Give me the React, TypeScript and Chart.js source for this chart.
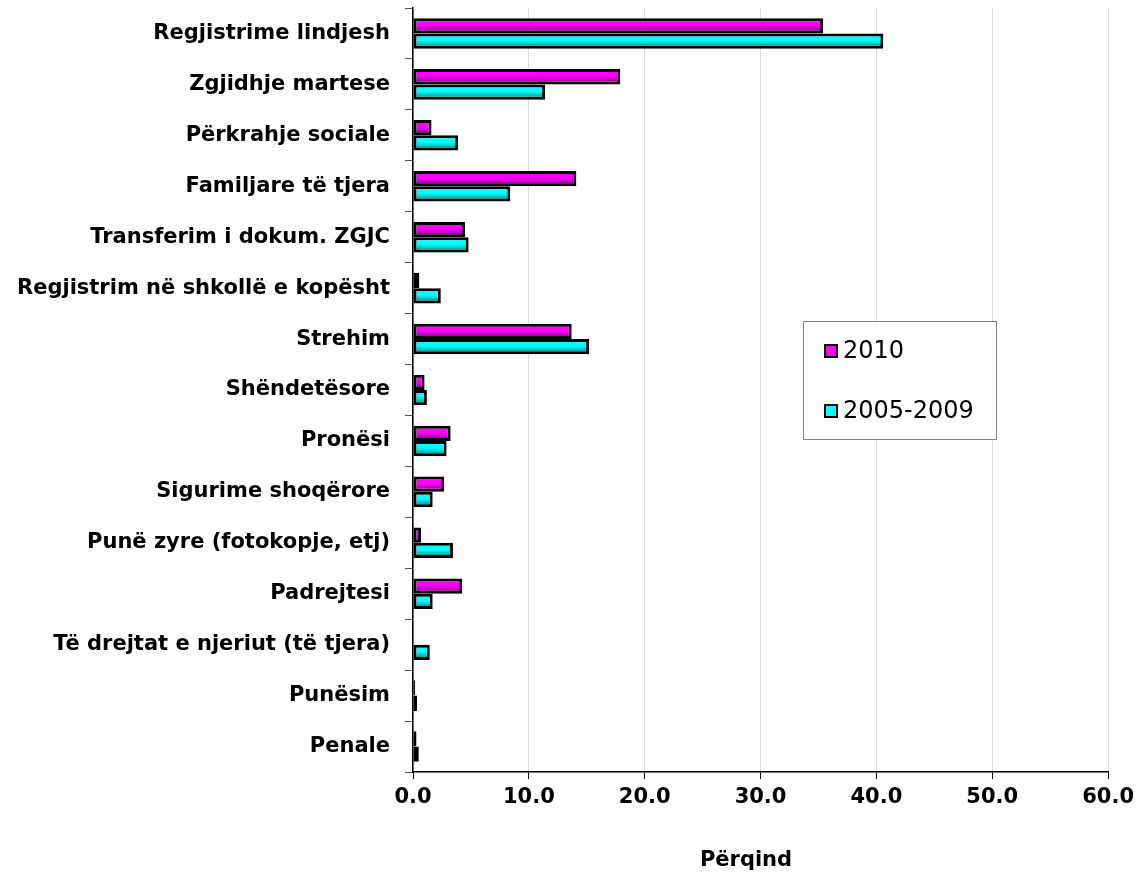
import React, { useEffect, useRef } from "react";
import { Chart, registerables } from "chart.js";

Chart.register(...registerables);

const CATEGORIES = [
  "Regjistrime lindjesh",
  "Zgjidhje martese",
  "Përkrahje sociale",
  "Familjare të tjera",
  "Transferim i dokum. ZGJC",
  "Regjistrim në shkollë e kopësht",
  "Strehim",
  "Shëndetësore",
  "Pronësi",
  "Sigurime shoqërore",
  "Punë zyre (fotokopje, etj)",
  "Padrejtesi",
  "Të drejtat e njeriut (të tjera)",
  "Punësim",
  "Penale",
];

const SERIES_2010 = [35.4, 17.9, 1.6, 14.1, 4.5, 0.55, 13.7, 1.0, 3.25, 2.7, 0.7, 4.25, 0, 0.17, 0.3];
const SERIES_2005_2009 = [40.6, 11.4, 3.9, 8.4, 4.8, 2.4, 15.2, 1.2, 2.9, 1.7, 3.45, 1.7, 1.45, 0.35, 0.5];

const SERIES_NAMES = ["2010", "2005-2009"];
const X_TICKS = [0, 10, 20, 30, 40, 50, 60];
const X_TITLE = "Përqind";

const FONT = "'DejaVu Sans', Verdana, sans-serif";
const CAT_PCT = 0.6;

function barFill(base: string, dark: string, slot: number) {
  return (ctx: any) => {
    const chart = ctx.chart;
    const y = chart.scales && chart.scales.y;
    if (!y || ctx.type !== "data" || !y.height) return base;
    const c = y.getPixelForValue(ctx.dataIndex);
    const band = y.height / CATEGORIES.length;
    const half = (band * CAT_PCT) / 2;
    const top = slot === 0 ? c - half : c;
    const bottom = slot === 0 ? c : c + half;
    const g = chart.ctx.createLinearGradient(0, top, 0, bottom);
    g.addColorStop(0, base);
    g.addColorStop(0.45, base);
    g.addColorStop(0.85, dark);
    g.addColorStop(1, dark);
    return g;
  };
}

const titleShiftPlugin = {
  id: "xTitle",
  afterDraw(chart: any) {
    const ctx = chart.ctx;
    ctx.save();
    ctx.font = `bold 21px ${FONT}`;
    ctx.fillStyle = "#000000";
    ctx.textAlign = "center";
    ctx.textBaseline = "middle";
    ctx.fillText(X_TITLE, 746, 861);
    ctx.restore();
  },
};

const legendPlugin = {
  id: "boxLegend",
  afterDraw(chart: any) {
    const ctx = chart.ctx;
    const bx = 803, by = 321, bw = 193, bh = 118;
    ctx.save();
    ctx.fillStyle = "#ffffff";
    ctx.fillRect(bx, by, bw, bh);
    ctx.strokeStyle = "#808080";
    ctx.lineWidth = 1;
    ctx.strokeRect(bx + 0.5, by + 0.5, bw, bh);
    const colors = ["#ff00ff", "#00ffff"];
    const rows = [351, 411];
    ctx.font = `24px ${FONT}`;
    ctx.textBaseline = "middle";
    ctx.textAlign = "left";
    SERIES_NAMES.forEach((name, i) => {
      const cy = rows[i];
      ctx.fillStyle = colors[i];
      ctx.fillRect(825, cy - 6, 12, 12);
      ctx.strokeStyle = "#000000";
      ctx.lineWidth = 2;
      ctx.strokeRect(825, cy - 6, 12, 12);
      ctx.fillStyle = "#000000";
      ctx.fillText(name, 843, cy + 1);
    });
    ctx.restore();
  },
};

export default function App() {
  const ref = useRef<HTMLCanvasElement | null>(null);

  useEffect(() => {
    if (!ref.current) return;
    const chart = new Chart(ref.current, {
      type: "bar",
      data: {
        labels: CATEGORIES,
        datasets: [
          {
            label: SERIES_NAMES[0],
            data: SERIES_2010,
            backgroundColor: barFill("#ff00ff", "#990099", 0),
            borderColor: "#000000",
            borderWidth: 3,
            borderSkipped: false,
            categoryPercentage: CAT_PCT,
            barPercentage: 1.0,
          },
          {
            label: SERIES_NAMES[1],
            data: SERIES_2005_2009,
            backgroundColor: barFill("#00ffff", "#009999", 1),
            borderColor: "#000000",
            borderWidth: 3,
            borderSkipped: false,
            categoryPercentage: CAT_PCT,
            barPercentage: 1.0,
          },
        ],
      },
      options: {
        indexAxis: "y",
        responsive: false,
        animation: false,
        layout: { padding: { top: 8, right: 30, left: 0, bottom: 0 } },
        plugins: {
          legend: { display: false },
          tooltip: { enabled: false },
        },
        scales: {
          x: {
            min: 0,
            max: 60,
            afterBuildTicks: (scale: any) => {
              scale.ticks = X_TICKS.map((v) => ({ value: v }));
            },
            afterFit: (scale: any) => {
              scale.height = 102;
            },
            ticks: {
              color: "#000000",
              font: { family: FONT, size: 21, weight: "bold" },
              padding: 6,
              callback: (v: any) => Number(v).toFixed(1),
            },
            grid: {
              color: "#d9d9d9",
              lineWidth: 1,
              tickLength: 7,
              tickColor: "#000000",
            },
            border: { color: "#000000", width: 1.5 },
          },
          y: {
            afterFit: (scale: any) => {
              scale.width = 413;
              scale.paddingTop = 0;
              scale.paddingBottom = 0;
            },
            ticks: {
              color: "#000000",
              font: { family: FONT, size: 21, weight: "bold" },
              padding: 15,
              autoSkip: false,
            },
            grid: {
              drawOnChartArea: false,
              tickLength: 8,
              tickColor: "#555555",
              offset: true,
            },
            border: { color: "#000000", width: 1.5 },
          },
        },
      },
      plugins: [legendPlugin, titleShiftPlugin],
    });
    return () => chart.destroy();
  }, []);

  return (
    <div style={{ position: "absolute", left: 0, top: 0, width: 1140, height: 874, background: "#ffffff" }}>
      <canvas ref={ref} width={1140} height={874} style={{ display: "block" }} />
    </div>
  );
}
